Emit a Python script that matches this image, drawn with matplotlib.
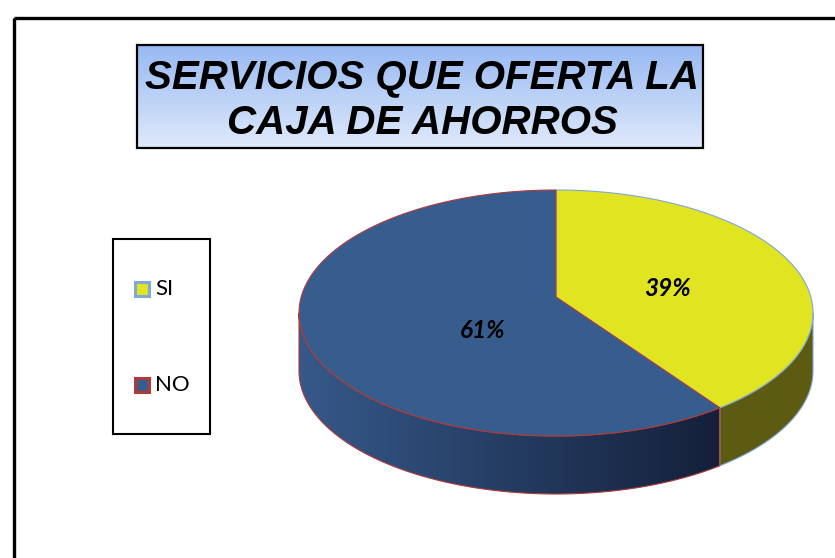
import matplotlib
matplotlib.use("Agg")
import matplotlib.pyplot as plt
import numpy as np
from matplotlib.patches import Polygon, Rectangle
from matplotlib.colors import to_rgb

# ── Data ──────────────────────────────────────────────────────────────────────
labels = ["SI", "NO"]
values = [39, 61]
pct_labels = ["39%", "61%"]
top_colors = ["#e1e421", "#375d8e"]
edge_colors = ["#7fa7d8", "#b03a3a"]
title_lines = ["SERVICIOS QUE OFERTA LA", "CAJA DE AHORROS"]

# ── Canvas (pixel coordinates) ────────────────────────────────────────────────
W, H = 835, 558
fig = plt.figure(figsize=(W / 100, H / 100), dpi=100)
ax = fig.add_axes([0, 0, 1, 1])
ax.set_xlim(0, W)
ax.set_ylim(H, 0)
ax.axis("off")

# outer frame
ax.add_patch(Rectangle((14, 18), 900, 700, fill=False, ec="black", lw=2.4))

# ── Title box with vertical gradient ─────────────────────────────────────────
tx0, tx1, ty0, ty1 = 137, 703, 45, 148
c_top, c_bot = np.array(to_rgb("#98b9f2")), np.array(to_rgb("#dfe9fb"))
t = np.linspace(0, 1, 100)[:, None, None]
grad = c_top * (1 - t) + c_bot * t
ax.imshow(grad, extent=(tx0, tx1, ty1, ty0), origin="upper", aspect="auto",
          zorder=1)
ax.add_patch(Rectangle((tx0, ty0), tx1 - tx0, ty1 - ty0, fill=False,
                       ec="black", lw=1.6, zorder=2))
for i, line in enumerate(title_lines):
    ax.text((tx0 + tx1) / 2 + 2, 78 + i * 45, line, ha="center", va="center",
            family="Liberation Sans", weight="bold", style="italic",
            fontsize=29, zorder=3)

# ── 3D pie ────────────────────────────────────────────────────────────────────
cx, cy, a, b, depth = 556, 313, 257, 123, 58


def pt(th, dy=0.0):
    return cx + a * np.cos(th), cy - b * np.sin(th) + dy


fracs = np.array(values) / sum(values)
starts = np.pi / 2 - np.concatenate([[0], np.cumsum(fracs)[:-1]]) * 2 * np.pi
ends = starts - fracs * 2 * np.pi

side_left = ["#5d5b12", "#36598a"]
side_right = ["#5d5b12", "#14203a"]

# side walls (front half: angles in [-pi, 0])
for i in range(len(values)):
    hi = min(starts[i], 0)
    lo = max(ends[i], -np.pi)
    if hi <= lo:
        continue
    th = np.linspace(hi, lo, 200)
    xs, ys = pt(th)
    xb, yb = pt(th[::-1], depth)
    poly = Polygon(np.column_stack([np.r_[xs, xb], np.r_[ys, yb]]),
                   closed=True, fc="none", ec=edge_colors[i], lw=0.8, zorder=4)
    ax.add_patch(poly)
    x0, x1 = xs.min(), xs.max()
    cl, cr = np.array(to_rgb(side_left[i])), np.array(to_rgb(side_right[i]))
    s = np.linspace(0, 1, 200)[None, :, None]
    img = cl * (1 - s) + cr * s
    im = ax.imshow(np.repeat(img, 2, axis=0),
                   extent=(x0, x1, cy + b + depth + 2, cy - 2),
                   aspect="auto", zorder=3)
    im.set_clip_path(poly)

# top faces
for i in range(len(values)):
    th = np.linspace(starts[i], ends[i], 300)
    xs, ys = pt(th)
    verts = np.column_stack([np.r_[cx, xs], np.r_[cy - 16, ys]])
    ax.add_patch(Polygon(verts, closed=True, fc=top_colors[i],
                         ec=edge_colors[i], lw=0.8, zorder=5))

# percentage labels
label_pos = [(667, 289), (483, 330)]
for (x, y), txt in zip(label_pos, pct_labels):
    ax.text(x, y, txt, ha="center", va="center", family="Lato",
            weight="bold", style="italic", fontsize=17.5, zorder=6)

# ── Legend ────────────────────────────────────────────────────────────────────
ax.add_patch(Rectangle((113, 239), 97, 195, fill=False, ec="black", lw=1.5))
leg_y = [289, 385]
for i, (lab, y) in enumerate(zip(labels, leg_y)):
    ax.add_patch(Rectangle((135, y - 7), 14, 14, fc=top_colors[i],
                           ec=edge_colors[i], lw=2.2))
    ax.text(155, y, lab, ha="left", va="center", family="Lato", fontsize=16)

fig.savefig("out.png", dpi=100)
